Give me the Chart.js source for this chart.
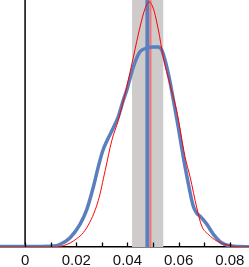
<!DOCTYPE html>
<html>
<head>
<meta charset="utf-8">
<script src="https://cdn.jsdelivr.net/npm/chart.js@4/dist/chart.umd.min.js"></script>
<style>
  body { margin: 0; background: #fff; }
  #wrap { width: 249px; height: 267px; }
</style>
</head>
<body>
<div id="wrap"><canvas id="densityChart"></canvas></div>
<script>
// x range and tick labels
let xMin = -0.0098;
let xMax = 0.0875;
let yMax = 41;
let tickValues = [0, 0.02, 0.04, 0.06, 0.08];
let minorTicks = [0.01, 0.03, 0.05, 0.07];

// blue density curve
let blueX = [-0.0098, 0.0059, 0.0111, 0.0137, 0.0176, 0.0215, 0.0241, 0.0267, 0.0286, 0.0303, 0.0322, 0.0345, 0.0364, 0.0384, 0.0397, 0.0423, 0.0449, 0.0475, 0.0501, 0.0521, 0.0534, 0.0547, 0.0566, 0.0579, 0.0599, 0.0618, 0.0632, 0.0657, 0.0671, 0.0684, 0.0710, 0.0736, 0.0768, 0.0801, 0.0866, 0.0875];
let blueY = [0.1, 0.1, 0.15, 0.45, 1.55, 3.8, 6.2, 10.0, 13.3, 15.9, 17.8, 19.8, 21.6, 24.4, 26.0, 29.9, 32.4, 33.0, 33.2, 33.2, 32.7, 31.0, 27.5, 24.5, 19.8, 15.0, 11.8, 6.8, 5.6, 5.1, 3.8, 2.1, 0.7, 0.2, 0.05, 0.05];

// red density curve
let redX = [-0.0098, 0.0117, 0.0137, 0.0189, 0.0241, 0.0286, 0.0313, 0.0339, 0.0364, 0.0397, 0.0423, 0.0449, 0.0469, 0.0484, 0.0501, 0.0521, 0.0540, 0.0566, 0.0593, 0.0625, 0.0645, 0.0671, 0.0690, 0.0716, 0.0749, 0.0801, 0.0840, 0.0875];
let redY = [0, 0, 0.08, 1.0, 3.2, 7.7, 12.7, 17.7, 21.0, 26.5, 31.5, 36.5, 39.6, 40.7, 39.6, 36.0, 31.5, 27.0, 22.5, 15.0, 11.6, 6.5, 3.5, 2.1, 1.0, 0.2, 0, 0];

// interval band and the two vertical markers
let bandLow = 0.0418;
let bandHigh = 0.0540;
let blueMark = 0.0478;
let redMark = 0.0490;

function toPoints(xs, ys) {
    return xs.map(function(x, i) { return { x: x, y: ys[i] }; });
}

function vLine(x) {
    return [{ x: x, y: 0 }, { x: x, y: yMax }];
}

// gray band + inward tick marks, drawn with the chart scales
let extras = {
    id: 'extras',
    beforeDatasetsDraw: function(chart) {
        let xs = chart.scales.x;
        let area = chart.chartArea;
        let c = chart.ctx;
        let x1 = xs.getPixelForValue(bandLow);
        let x2 = xs.getPixelForValue(bandHigh);
        c.save();
        c.fillStyle = '#cfcbcb';
        c.fillRect(x1, area.top, x2 - x1, area.bottom - area.top);
        c.restore();
    },
    afterDraw: function(chart) {
        let xs = chart.scales.x;
        let area = chart.chartArea;
        let c = chart.ctx;
        c.save();
        c.strokeStyle = '#000';
        c.lineWidth = 1.3;
        tickValues.concat(minorTicks).forEach(function(v) {
            let px = Math.round(xs.getPixelForValue(v)) + 0.5;
            c.beginPath();
            c.moveTo(px, area.bottom);
            c.lineTo(px, area.bottom - 4.5);
            c.stroke();
        });
        c.restore();
    }
};

let ctx = document.getElementById('densityChart').getContext('2d');
let densityChart = new Chart(ctx, {
    type: 'line',
    data: {
        datasets: [{
            data: vLine(0),
            borderColor: '#000',
            borderWidth: 1.5,
            pointRadius: 0,
            order: 5
        }, {
            data: vLine(blueMark),
            borderColor: '#5a7fbe',
            borderWidth: 4,
            pointRadius: 0,
            order: 4
        }, {
            data: vLine(redMark),
            borderColor: '#f07575',
            borderWidth: 2,
            pointRadius: 0,
            order: 3
        }, {
            data: toPoints(blueX, blueY),
            borderColor: '#5a7fbe',
            borderWidth: 3.5,
            pointRadius: 0,
            cubicInterpolationMode: 'monotone',
            order: 2
        }, {
            data: toPoints(redX, redY),
            borderColor: '#ff0000',
            borderWidth: 1,
            pointRadius: 0,
            cubicInterpolationMode: 'monotone',
            order: 1
        }]
    },
    options: {
        responsive: true,
        maintainAspectRatio: false,
        animation: false,
        layout: { padding: 0 },
        plugins: {
            legend: { display: false },
            tooltip: { enabled: false }
        },
        scales: {
            x: {
                type: 'linear',
                min: xMin,
                max: xMax,
                grid: { display: false },
                border: { display: true, color: '#000', width: 1.5 },
                afterBuildTicks: function(scale) {
                    scale.ticks = tickValues.map(function(v) { return { value: v }; });
                },
                afterFit: function(scale) {
                    scale.height = 20;
                },
                ticks: {
                    autoSkip: false,
                    maxRotation: 0,
                    padding: -3,
                    color: '#111',
                    font: { family: 'Liberation Sans, Arial, sans-serif', size: 15 },
                    callback: function(v) { return v === 0 ? '0' : String(Number(v.toFixed(2))); }
                }
            },
            y: {
                display: false,
                min: 0,
                max: yMax
            }
        }
    },
    plugins: [extras]
});
</script>
</body>
</html>
